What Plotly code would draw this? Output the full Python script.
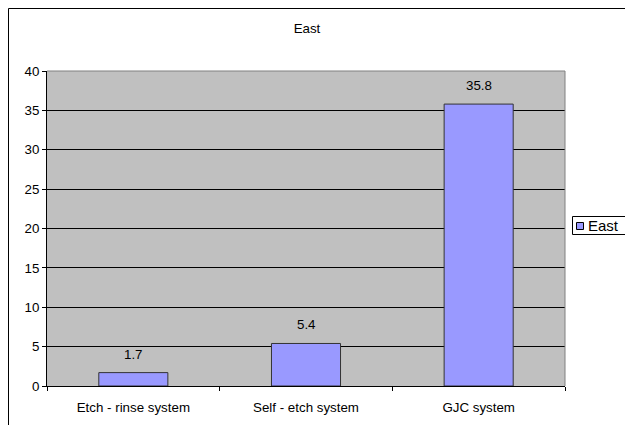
import plotly.graph_objects as go

# Chart data
categories = ["Etch - rinse system", "Self - etch system", "GJC system"]
east_values = [1.7, 5.4, 35.8]
series_name = "East"
y_ticks = [0, 5, 10, 15, 20, 25, 30, 35, 40]

FONT = "Liberation Sans, Arial, sans-serif"
FS = 13.33
BAR_COLOR = "#9999FF"

fig = go.Figure()
fig.add_trace(go.Bar(
    x=categories,
    y=east_values,
    name=series_name,
    marker=dict(color=BAR_COLOR, line=dict(color="#333333", width=1)),
    width=0.4,
    showlegend=False,
))

# plot-area geometry in pixels (625x425 canvas)
L, R, T, B = 47, 565, 71, 386
W, H = R - L, B - T

def px_x(p):
    return (p - L) / W

def px_y(p):
    return (B - p) / H

# value labels above each bar
annotations = [
    dict(x=c, y=v, xref="x", yref="y", text=f"{v:g}", showarrow=False,
         yanchor="bottom", yshift=9,
         font=dict(family=FONT, size=FS, color="black"))
    for c, v in zip(categories, east_values)
]
# legend entry text
annotations.append(dict(
    x=px_x(586), y=px_y(225.5), xref="paper", yref="paper", text=series_name,
    showarrow=False, xanchor="left", yanchor="middle",
    font=dict(family=FONT, size=15, color="black"),
))

fig.update_layout(
    width=625, height=425,
    margin=dict(l=L, r=625 - R, t=T, b=425 - B, autoexpand=False),
    paper_bgcolor="white",
    plot_bgcolor="#C0C0C0",
    font=dict(family=FONT, size=FS, color="black"),
    title=dict(text="East", x=px_x(307), xref="paper", xanchor="center",
               y=1 - 28 / 425, yanchor="middle",
               font=dict(family=FONT, size=FS, color="black")),
    showlegend=False,
    bargap=0.6,
    xaxis=dict(
        type="category",
        showgrid=False,
        showline=True, linecolor="black", linewidth=1,
        ticks="outside", tickson="boundaries", ticklen=4, tickcolor="black",
        ticklabelstandoff=9,
        tickfont=dict(family=FONT, size=FS, color="black"),
        zeroline=False,
    ),
    yaxis=dict(
        range=[0, 40],
        tickvals=y_ticks,
        showgrid=True, gridcolor="black", gridwidth=1,
        showline=True, linecolor="black", linewidth=1,
        ticks="outside", ticklen=4, tickcolor="black",
        tickfont=dict(family=FONT, size=FS, color="black"),
        zeroline=False,
    ),
    annotations=annotations,
    shapes=[
        # plot-area top and right edges
        dict(type="line", xref="paper", yref="paper", x0=0, x1=1, y0=1, y1=1,
             line=dict(color="#808080", width=1)),
        dict(type="line", xref="paper", yref="paper", x0=1, x1=1, y0=0, y1=1,
             line=dict(color="#808080", width=1)),
        # chart frame
        dict(type="rect", xref="paper", yref="paper",
             x0=px_x(8.5), x1=px_x(640), y0=px_y(440), y1=px_y(8.5),
             line=dict(color="black", width=1), layer="below"),
        # legend box and swatch
        dict(type="rect", xref="paper", yref="paper",
             x0=px_x(572.5), x1=px_x(640), y0=px_y(234.5), y1=px_y(216.5),
             line=dict(color="black", width=1), fillcolor="white"),
        dict(type="rect", xref="paper", yref="paper",
             x0=px_x(576.5), x1=px_x(583.5), y0=px_y(229.5), y1=px_y(222.5),
             line=dict(color="black", width=1), fillcolor=BAR_COLOR),
    ],
)

fig.write_html("out.html")
